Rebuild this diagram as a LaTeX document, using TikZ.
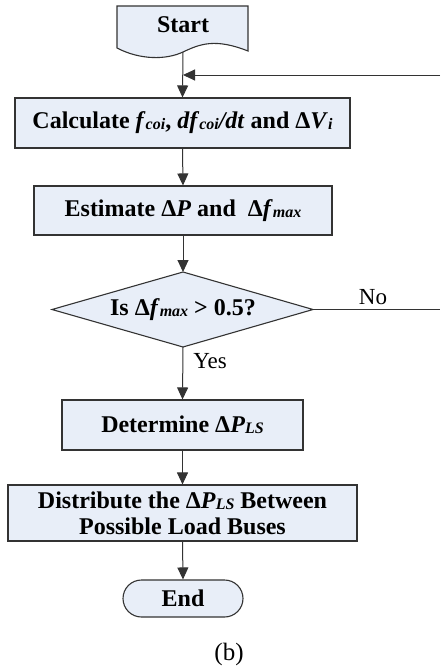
\documentclass[tikz,border=0pt]{standalone}
\usepackage{fontspec}
\setmainfont{Liberation Serif}
\usetikzlibrary{arrows.meta}
\newcommand{\sbs}[1]{\raisebox{-1pt}{\fontsize{16}{16}\selectfont\textit{#1}}}
\definecolor{boxfill}{HTML}{E8EEF8}
\definecolor{boxline}{HTML}{333333}
\begin{document}
\begin{tikzpicture}[x=1pt,y=-1pt,
  procbox/.style={draw=boxline,fill=boxfill,line width=1.1pt,inner sep=0pt,align=center,font=\fontsize{24}{26}\selectfont\bfseries},
  conn/.style={draw=boxline,line width=1pt},
  arr/.style={conn,-{Triangle[length=12pt,width=11pt]}},
  lbl/.style={font=\fontsize{23}{26}\selectfont}]
\useasboundingbox (0,0) rectangle (440,669);
% Start (document shape)
\path[draw=boxline,fill=boxfill,line width=1.1pt]
  (117,6) -- (248,6) -- (248,51) .. controls (215,38) and (200,44) .. (183,52)
  .. controls (166,60) and (140,60) .. (117,48) -- cycle;
\node[font=\fontsize{24}{26}\selectfont\bfseries] (start) at (183,25) {Start};
\coordinate (startb) at (183,52);
% boxes
\node[procbox,minimum width=335pt,minimum height=50pt] (calc) at (182.5,123)
  {Calculate \textit{f}\sbs{coi}, \textit{df}\sbs{coi}\textit{/dt} and Δ\textit{V}\sbs{i}};
\node[procbox,minimum width=298pt,minimum height=49pt] (est) at (183,210.5)
  {Estimate Δ\textit{P} and~ Δ\textit{f}\sbs{max}};
% decision diamond
\coordinate (dtop) at (183,272);
\coordinate (dbot) at (183,347);
\coordinate (dleft) at (52,309.5);
\coordinate (dright) at (313,309.5);
\path[draw=boxline,fill=boxfill,line width=1.1pt] (dtop) -- (dright) -- (dbot) -- (dleft) -- cycle;
\node[font=\fontsize{24}{26}\selectfont\bfseries] (dec) at (183,309.5) {Is Δ\textit{f}\sbs{max} > 0.5?};
\node[procbox,minimum width=241pt,minimum height=50pt] (det) at (182.5,425)
  {Determine Δ\textit{P}\sbs{LS}};
\node[procbox,minimum width=349pt,minimum height=56pt] (dist) at (182.5,513)
  {Distribute the Δ\textit{P}\sbs{LS} Between\\Possible Load Buses};
\node[procbox,minimum width=120pt,minimum height=37pt,rounded corners=18.5pt] (endn) at (183,598.5) {End};
% connectors
\coordinate (join) at (183,75);
\coordinate (fbR) at (440,75);
\coordinate (noR) at (440,309.5);
\draw[arr] (startb) -- (calc.north);
\draw[arr] (fbR) -- (join);
\draw[arr] (calc.south) -- (est.north);
\draw[arr] (est.south) -- (dtop);
\draw[arr] (dbot) -- (det.north);
\draw[arr] (det.south) -- (dist.north);
\draw[arr] (dist.south) -- (endn.north);
\draw[conn] (dright) -- (noR);
\node[lbl] (no) at (373,297) {No};
\node[lbl] (yes) at (210,361) {Yes};
\node[font=\fontsize{25}{28}\selectfont] (cap) at (229,654) {(b)};
\end{tikzpicture}
\end{document}
